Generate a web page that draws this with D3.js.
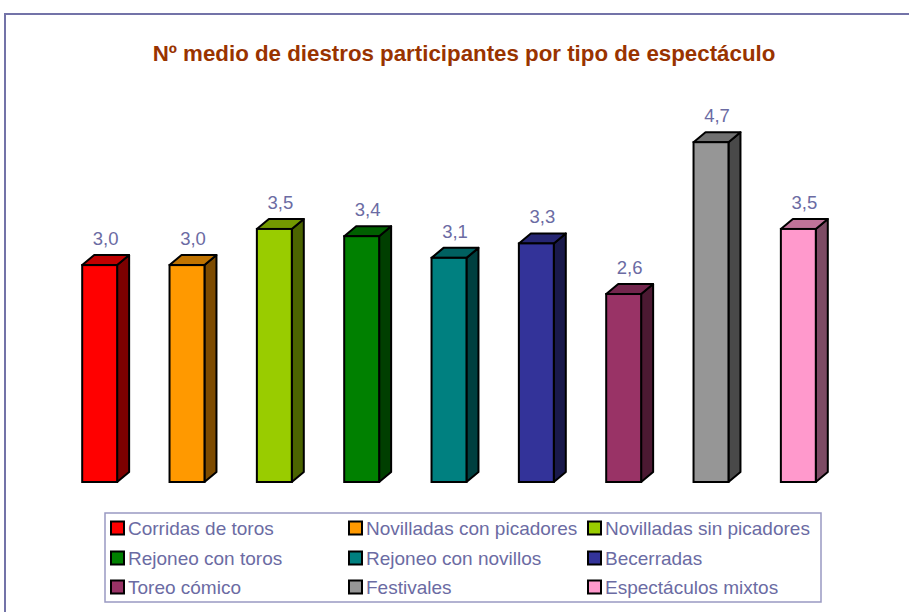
<!DOCTYPE html>
<html>
<head>
<meta charset="utf-8">
<script src="https://cdn.jsdelivr.net/npm/d3@7"></script>
<style>
  html, body { margin: 0; padding: 0; background: #fff; }
  svg { display: block; font-family: Arial, "Liberation Sans", sans-serif; }
</style>
</head>
<body>
<svg id="chart" width="909" height="612"></svg>
<script>
// Average number of matadors per event type
const categories = [
  "Corridas de toros", "Novilladas con picadores", "Novilladas sin picadores",
  "Rejoneo con toros", "Rejoneo con novillos", "Becerradas",
  "Toreo cómico", "Festivales", "Espectáculos mixtos"
];
const values = [3.0, 3.0, 3.5, 3.4, 3.1, 3.3, 2.6, 4.7, 3.5];
const colors = ["#FF0000", "#FF9900", "#99CC00", "#008000", "#008080",
                "#333399", "#993366", "#969696", "#FF99CC"];
const title = "Nº medio de diestros participantes por tipo de espectáculo";

const svg = d3.select("#chart");
const fmt = v => d3.format(".1f")(v).replace(".", ",");

// outer frame (runs off the right and bottom edges)
svg.append("rect")
  .attr("x", 5).attr("y", 14).attr("width", 1000).attr("height", 700)
  .attr("fill", "none").attr("stroke", "#7373a8").attr("stroke-width", 2);

svg.append("text")
  .attr("x", 464).attr("y", 61)
  .attr("text-anchor", "middle")
  .attr("font-size", 22.3).attr("font-weight", "bold")
  .attr("fill", "#993300")
  .text(title);

// scales
const x = d3.scaleBand().domain(categories).range([56, 842]).paddingInner(0.6).paddingOuter(0.3);
const y = d3.scaleLinear().domain([0, 5]).range([482, 120.5]);
const dx = 12, dy = 10;

const bars = svg.append("g").selectAll("g").data(categories).join("g");

bars.each(function(c, i) {
  const g = d3.select(this);
  const x0 = x(c), w = x.bandwidth(), x1 = x0 + w;
  const yt = y(values[i]), yb = y(0);
  const base = d3.color(colors[i]);
  // right side face
  g.append("path")
    .attr("d", `M${x1},${yt}L${x1 + dx},${yt - dy}L${x1 + dx},${yb - dy}L${x1},${yb}Z`)
    .attr("fill", base.darker(2).formatHex())
    .attr("stroke", "#000").attr("stroke-width", 2).attr("stroke-linejoin", "round");
  // top face
  g.append("path")
    .attr("d", `M${x0},${yt}L${x0 + dx},${yt - dy}L${x1 + dx},${yt - dy}L${x1},${yt}Z`)
    .attr("fill", base.darker(0.8).formatHex())
    .attr("stroke", "#000").attr("stroke-width", 2).attr("stroke-linejoin", "round");
  // front face
  g.append("rect")
    .attr("x", x0).attr("y", yt).attr("width", w).attr("height", yb - yt)
    .attr("fill", colors[i])
    .attr("stroke", "#000").attr("stroke-width", 2);
  // value label
  g.append("text")
    .attr("x", x0 + w / 2 + dx / 2).attr("y", yt - dy - 10)
    .attr("text-anchor", "middle")
    .attr("font-size", 18.5).attr("fill", "#6b6ba3")
    .text(fmt(values[i]));
});

// legend
const legend = svg.append("g");
legend.append("rect")
  .attr("x", 105).attr("y", 513).attr("width", 716).attr("height", 89)
  .attr("fill", "#fff").attr("stroke", "#9999c2").attr("stroke-width", 1.5);

const colX = [111, 349, 588];
const rowY = [528, 558, 587];
categories.forEach((c, i) => {
  const cx = colX[i % 3], cy = rowY[Math.floor(i / 3)];
  legend.append("rect")
    .attr("x", cx).attr("y", cy - 6.5).attr("width", 13).attr("height", 13)
    .attr("fill", colors[i]).attr("stroke", "#000").attr("stroke-width", 2);
  legend.append("text")
    .attr("x", cx + 17).attr("y", cy + 6.5)
    .attr("font-size", 19).attr("fill", "#6b6ba3")
    .text(c);
});
</script>
</body>
</html>
